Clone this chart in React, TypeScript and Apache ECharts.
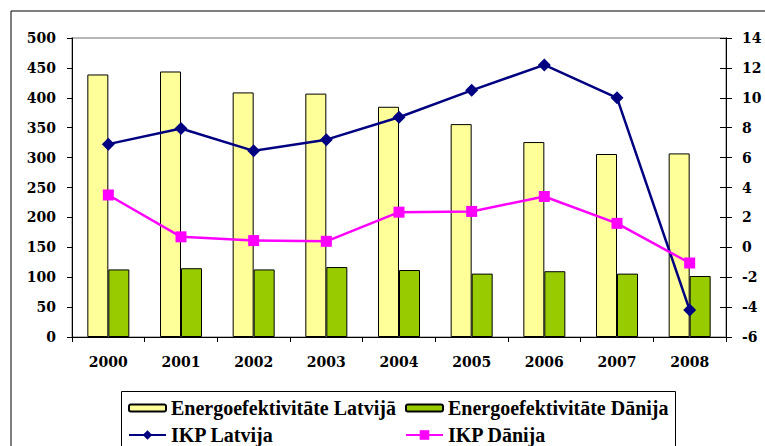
import React, { useEffect, useRef } from "react";
import * as echarts from "echarts";

const years = ["2000", "2001", "2002", "2003", "2004", "2005", "2006", "2007", "2008"];
const energyLatvia = [439, 444, 409, 407, 385, 356, 326, 306, 307];
const energyDenmark = [113, 115, 113, 117, 112, 106, 110, 106, 102];
const gdpLatvia = [6.9, 7.95, 6.45, 7.2, 8.7, 10.5, 12.2, 10.0, -4.2];
const gdpDenmark = [3.5, 0.7, 0.45, 0.4, 2.35, 2.4, 3.4, 1.6, -1.05];

const AXIS_FONT = "DejaVu Serif";
const LEGEND_FONT = "'Liberation Serif', 'Times New Roman', Times, serif";

export default function App() {
  const ref = useRef<HTMLDivElement>(null);
  useEffect(() => {
    if (!ref.current) return;
    const chart = echarts.init(ref.current, null, { renderer: "svg" });
    const label = { color: "#000", fontFamily: AXIS_FONT, fontWeight: "bold" as const, fontSize: 14 };
    const legendText = { color: "#000", fontFamily: LEGEND_FONT, fontWeight: "bold" as const, fontSize: 20 };
    chart.setOption({
      animation: false,
      backgroundColor: "#fff",
      grid: {
        left: 72,
        top: 38,
        width: 654,
        height: 299,
        show: true,
        borderColor: "#a0a0a0",
        borderWidth: 1.5,
        containLabel: false,
      },
      legend: [
        {
          data: ["Energoefektivitāte Latvijā"],
          left: 128,
          top: 398,
          padding: 0,
          itemWidth: 37,
          itemHeight: 7,
          textStyle: legendText,
        },
        {
          data: ["Energoefektivitāte Dānija"],
          left: 405,
          top: 398,
          padding: 0,
          itemWidth: 37,
          itemHeight: 7,
          textStyle: legendText,
        },
        {
          data: ["IKP Latvija"],
          left: 128,
          top: 425,
          padding: 0,
          itemWidth: 37,
          itemHeight: 12,
          textStyle: legendText,
        },
        {
          data: ["IKP Dānija"],
          left: 405,
          top: 425,
          padding: 0,
          itemWidth: 37,
          itemHeight: 12,
          textStyle: legendText,
        },
      ],
      graphic: [
        {
          type: "rect",
          shape: { x: 11, y: 11, width: 770, height: 450 },
          style: { fill: "none", stroke: "#000", lineWidth: 1 },
          silent: true,
          z: -1,
        },
        {
          type: "rect",
          shape: { x: 121.5, y: 391.5, width: 554, height: 70 },
          style: { fill: "none", stroke: "#000", lineWidth: 1 },
          silent: true,
          z: -1,
        },
      ],
      xAxis: {
        type: "category",
        data: years,
        boundaryGap: true,
        axisLine: { lineStyle: { color: "#000", width: 1 } },
        axisTick: { show: true, length: 5, alignWithLabel: false, lineStyle: { color: "#000" } },
        axisLabel: { ...label, margin: 18 },
        splitLine: { show: false },
      },
      yAxis: [
        {
          type: "value",
          min: 0,
          max: 500,
          interval: 50,
          position: "left",
          axisLine: { show: true, lineStyle: { color: "#000", width: 1 } },
          axisTick: { show: true, length: 5, lineStyle: { color: "#000" } },
          axisLabel: { ...label, margin: 16 },
          splitLine: { show: false },
        },
        {
          type: "value",
          min: -6,
          max: 14,
          interval: 2,
          position: "right",
          axisLine: { show: true, lineStyle: { color: "#000", width: 1 } },
          axisTick: { show: true, length: 6, lineStyle: { color: "#000" } },
          axisLabel: { ...label, margin: 16 },
          splitLine: { show: false },
        },
        {
          type: "value",
          min: -6,
          max: 14,
          interval: 2,
          position: "right",
          axisLine: { show: false },
          axisTick: { show: true, inside: true, length: 6, lineStyle: { color: "#000" } },
          axisLabel: { show: false },
          splitLine: { show: false },
        },
      ],
      series: [
        {
          name: "Energoefektivitāte Latvijā",
          type: "bar",
          data: energyLatvia,
          barWidth: 21,
          barGap: "0%",
          itemStyle: { color: "#ffff99", borderColor: "#000", borderWidth: 1 },
        },
        {
          name: "Energoefektivitāte Dānija",
          type: "bar",
          data: energyDenmark,
          barWidth: 21,
          barGap: "0%",
          itemStyle: { color: "#99cc00", borderColor: "#000", borderWidth: 1 },
        },
        {
          name: "IKP Latvija",
          type: "line",
          yAxisIndex: 1,
          data: gdpLatvia,
          symbol: "diamond",
          symbolSize: 13,
          lineStyle: { color: "#000080", width: 2.5 },
          itemStyle: { color: "#000080" },
          z: 5,
        },
        {
          name: "IKP Dānija",
          type: "line",
          yAxisIndex: 1,
          data: gdpDenmark,
          symbol: "rect",
          symbolSize: 11,
          lineStyle: { color: "#ff00ff", width: 2.5 },
          itemStyle: { color: "#ff00ff" },
          z: 5,
        },
      ],
    });
    return () => chart.dispose();
  }, []);
  return (
    <div
      ref={ref}
      style={{ position: "fixed", left: 0, top: 0, width: 765, height: 446, overflow: "hidden", background: "#fff" }}
    />
  );
}
